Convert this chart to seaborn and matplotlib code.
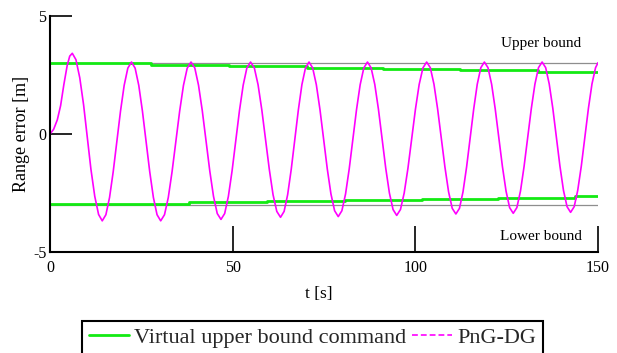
import matplotlib
matplotlib.use("Agg")
import matplotlib.pyplot as plt
from matplotlib.lines import Line2D
import seaborn as sns

# PnG-DG range error [m] against time [s]
time_s = [
    0.0, 1.0, 2.0, 2.9, 3.8, 4.7, 5.4,
    6.1, 7.1, 8.15, 9.2, 10.2, 11.2, 12.25, 13.3, 14.3,
    15.3, 16.3, 17.3, 18.3, 19.3, 20.3, 21.3, 22.3,
    23.3, 24.3, 25.3, 26.3, 27.3, 28.3, 29.3, 30.3,
    31.34, 32.38, 33.41, 34.45, 35.49, 36.53, 37.56, 38.6,
    39.63, 40.65, 41.68, 42.7, 43.73, 44.75, 45.78, 46.8,
    47.81, 48.83, 49.84, 50.85, 51.86, 52.88, 53.89, 54.9,
    55.93, 56.95, 57.98, 59.0, 60.03, 61.05, 62.08, 63.1,
    64.08, 65.05, 66.03, 67.0, 67.98, 68.95, 69.93, 70.9,
    71.9, 72.9, 73.9, 74.9, 75.9, 76.9, 77.9, 78.9,
    79.9, 80.9, 81.9, 82.9, 83.9, 84.9, 85.9, 86.9,
    87.9, 88.9, 89.9, 90.9, 91.9, 92.9, 93.9, 94.9,
    95.93, 96.95, 97.98, 99.0, 100.03, 101.05, 102.08, 103.1,
    104.1, 105.1, 106.1, 107.1, 108.1, 109.1, 110.1, 111.1,
    112.08, 113.05, 114.03, 115.0, 115.98, 116.95, 117.93, 118.9,
    119.89, 120.88, 121.86, 122.85, 123.84, 124.83, 125.81, 126.8,
    127.79, 128.78, 129.76, 130.75, 131.74, 132.73, 133.71, 134.7,
    135.68, 136.65, 137.63, 138.6, 139.58, 140.55, 141.53, 142.5,
    143.48, 144.45, 145.43, 146.4, 147.38, 148.35, 149.33, 150.0,
]
png_dg_error = [
    0.00, 0.20, 0.60, 1.20, 2.10, 2.90, 3.30,
    3.42, 3.15, 2.38, 1.23, -0.13, -1.49, -2.64, -3.41, -3.68,
    -3.42, -2.69, -1.60, -0.32, 0.97, 2.06, 2.79, 3.05,
    2.79, 2.06, 0.97, -0.32, -1.60, -2.69, -3.42, -3.68,
    -3.42, -2.69, -1.60, -0.32, 0.97, 2.06, 2.79, 3.05,
    2.80, 2.07, 0.99, -0.29, -1.56, -2.64, -3.37, -3.62,
    -3.37, -2.64, -1.56, -0.29, 0.99, 2.07, 2.80, 3.05,
    2.80, 2.09, 1.02, -0.24, -1.50, -2.57, -3.28, -3.53,
    -3.28, -2.57, -1.50, -0.24, 1.02, 2.09, 2.80, 3.05,
    2.80, 2.09, 1.03, -0.23, -1.48, -2.54, -3.25, -3.50,
    -3.25, -2.54, -1.48, -0.23, 1.03, 2.09, 2.80, 3.05,
    2.80, 2.10, 1.05, -0.20, -1.45, -2.50, -3.20, -3.45,
    -3.20, -2.50, -1.45, -0.20, 1.05, 2.10, 2.80, 3.05,
    2.81, 2.11, 1.06, -0.17, -1.40, -2.45, -3.15, -3.39,
    -3.15, -2.45, -1.40, -0.17, 1.06, 2.11, 2.81, 3.05,
    2.81, 2.11, 1.07, -0.16, -1.38, -2.42, -3.12, -3.36,
    -3.12, -2.42, -1.38, -0.16, 1.07, 2.11, 2.81, 3.05,
    2.81, 2.12, 1.09, -0.14, -1.36, -2.39, -3.08, -3.32,
    -3.08, -2.39, -1.36, -0.14, 1.09, 2.12, 2.81, 3.02,
]

# Virtual bound commands (piecewise constant)
upper_cmd_t = [0.0, 27.7, 49.0, 70.3, 91.2, 112.1, 133.6, 150.0]
upper_cmd = [3.00, 2.94, 2.88, 2.80, 2.75, 2.70, 2.64, 2.64]
lower_cmd_t = [0.0, 16.9, 38.1, 59.3, 80.7, 101.7, 122.6, 143.6, 150.0]
lower_cmd = [-2.98, -2.95, -2.90, -2.86, -2.79, -2.74, -2.70, -2.61, -2.61]

# Fixed bounds
bound_t = [0.0, 150.0]
upper_bound = [3.0, 3.0]
lower_bound = [-3.0, -3.0]

legend_labels = ["Virtual upper bound command", "PnG-DG"]
x_ticks = [0, 50, 100, 150]
y_ticks = [-5, 0, 5]

GREEN = "#13ea13"
MAGENTA = "#ff00ff"
GREY = "#8e8e8e"

sns.set_theme(style="white")
plt.rcParams["font.family"] = ["Liberation Serif", "DejaVu Serif"]
plt.rcParams["axes.unicode_minus"] = False

fig = plt.figure(figsize=(6.17, 3.53), dpi=100)
ax = fig.add_axes([50 / 617, 1 - 252 / 353, 548 / 617, 236 / 353])

sns.lineplot(x=bound_t, y=upper_bound, ax=ax, color=GREY, lw=0.9,
             estimator=None, sort=False)
sns.lineplot(x=bound_t, y=lower_bound, ax=ax, color=GREY, lw=0.9,
             estimator=None, sort=False)
sns.lineplot(x=upper_cmd_t, y=upper_cmd, ax=ax, color=GREEN, lw=2.0,
             drawstyle="steps-post", estimator=None, sort=False)
sns.lineplot(x=lower_cmd_t, y=lower_cmd, ax=ax, color=GREEN, lw=2.0,
             drawstyle="steps-post", estimator=None, sort=False)
sns.lineplot(x=time_s, y=png_dg_error, ax=ax, color=MAGENTA, lw=1.2,
             estimator=None, sort=False)

ax.set_xlim(0, 150)
ax.set_ylim(-5, 5)
ax.set_xticks(x_ticks)
ax.set_yticks(y_ticks)
ax.set_xticklabels([str(v) for v in x_ticks])
ax.set_yticklabels([str(v) for v in y_ticks])

for side in ("top", "right"):
    ax.spines[side].set_visible(False)
for side in ("left", "bottom"):
    ax.spines[side].set_color("black")
    ax.spines[side].set_linewidth(1.5)

ax.tick_params(axis="y", direction="in", length=16, width=1.2, color="black",
               labelsize=11.5, pad=2.5, left=True, labelcolor="black")
ax.tick_params(axis="x", direction="in", length=19, width=1.2, color="black",
               labelsize=11.5, pad=6, bottom=True, labelcolor="black")

ax.set_xlabel("t [s]", fontsize=12.5, color="black")
ax.set_ylabel("Range error [m]", fontsize=13, color="black")
ax.xaxis.set_label_coords(0.49, -0.145)
ax.yaxis.set_label_coords(-0.036, 0.5)

ax.text(134.5, 3.85, "Upper bound", fontsize=11, ha="center", va="center",
        color="black")
ax.text(134.3, -4.33, "Lower bound", fontsize=11, ha="center", va="center",
        color="black")

handles = [
    Line2D([], [], color=GREEN, lw=2.0),
    Line2D([], [], color=MAGENTA, lw=1.2, dashes=(3.5, 1.8)),
]
leg = fig.legend(handles, legend_labels, loc="upper left",
                 bbox_to_anchor=(82 / 617, 1 - 321 / 353), ncol=2,
                 fontsize=16, frameon=True, fancybox=False, framealpha=1,
                 edgecolor="black", borderpad=0.3, handlelength=1.8,
                 handletextpad=0.25, columnspacing=0.25, borderaxespad=0)
leg.get_frame().set_linewidth(1.5)

fig.savefig("out.png", dpi=100)
